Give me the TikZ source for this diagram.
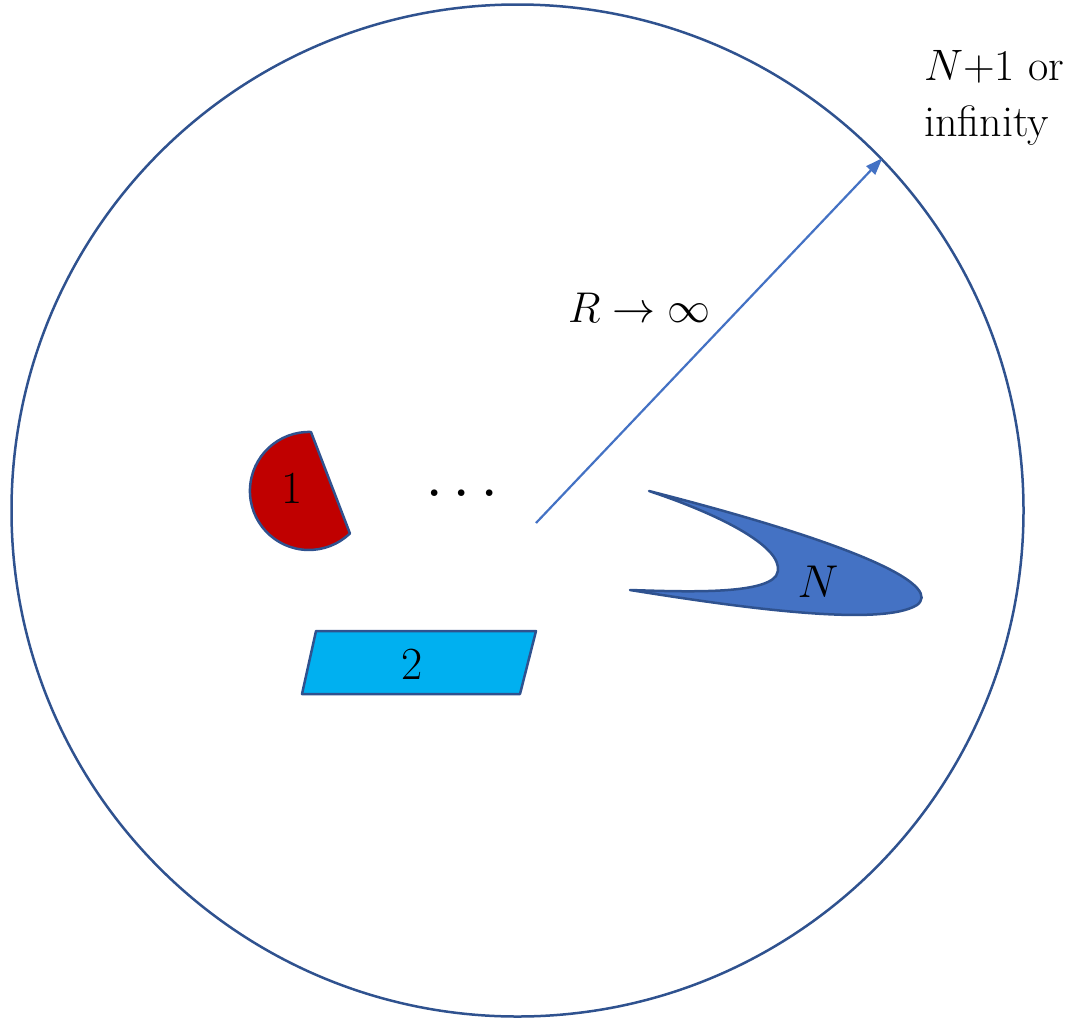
\RequirePackage{fix-cm}
\documentclass[tikz,border=0pt]{standalone}
\usetikzlibrary{arrows.meta}
\definecolor{edgeblue}{HTML}{2F528F}
\definecolor{arrowblue}{HTML}{4472C4}
\definecolor{darkred}{HTML}{C00000}
\definecolor{skyblue}{HTML}{00B0F0}
\definecolor{bodyblue}{HTML}{4472C4}
\tikzset{
  bigtext/.style={font=\fontsize{46}{56}\selectfont, inner sep=0pt},
  labeltext/.style={font=\fontsize{44}{56}\selectfont, inner sep=0pt},
  shapeedge/.style={draw=edgeblue, line width=2.5pt, line join=round},
  radius arrow/.style={draw=arrowblue, line width=2.2pt, -{Triangle[length=17pt,width=12pt]}},
}
\begin{document}
\begin{tikzpicture}[x=1pt,y=-1pt]
\useasboundingbox (0,0) rectangle (1070,1020);
% outer circle
\node (outer) [circle, draw=edgeblue, line width=2.5pt, minimum size=1012pt, inner sep=0pt] at (517.5,510.5) {};
% body 1: circular segment
\path[shapeedge, fill=darkred] (311,432) arc[start angle=-88, end angle=-314, radius=59] -- cycle;
\node (one) [bigtext] at (292,488) {1};
% body 2: parallelogram
\path[shapeedge, fill=skyblue] (316,631) -- (536,631) -- (520,694) -- (302,694) -- cycle;
\node (two) [bigtext] at (412,664) {2};
% body N: boomerang
\path[shapeedge, fill=bodyblue] (649,491)
  .. controls (730,518) and (790,552) .. (776,576)
  .. controls (762,594) and (690,592) .. (630,590)
  .. controls (730,606) and (880,628) .. (917,605)
  .. controls (940,588) and (880,550) .. (649,491) -- cycle;
\node (bodyN) [bigtext] at (818,582) {$N$};
% dots
\node (dots) [bigtext, anchor=base] at (462,496) {\textbf{.}\hspace{13pt}\textbf{.}\hspace{13pt}\textbf{.}};
% radius arrow
\coordinate (start) at (536,523);
\draw[radius arrow] (start) -- (outer.44.7);
\node (rlabel) [font=\fontsize{43}{52}\selectfont, inner sep=0pt, anchor=base west] at (568,322) {$R\to\infty$};
% exterior label
\node (ext) [labeltext, align=left, anchor=north west] at (924,50) {$N$+1 or\\infinity};
\end{tikzpicture}
\end{document}
